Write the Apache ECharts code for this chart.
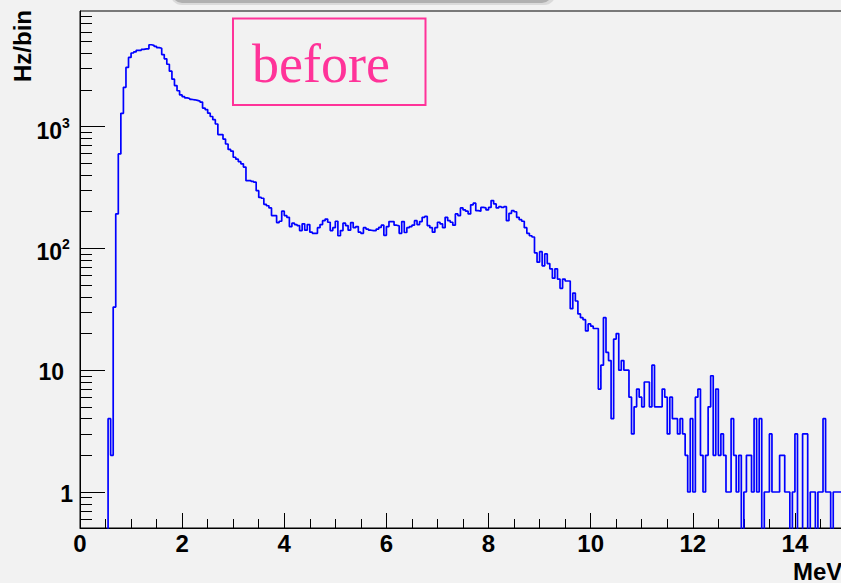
<!DOCTYPE html>
<html><head><meta charset="utf-8">
<script src="https://cdn.jsdelivr.net/npm/echarts@6/dist/echarts.min.js"></script>
<style>
html,body{margin:0;padding:0;width:841px;height:583px;overflow:hidden;background:#f2f2f2}
#c{width:846px;height:583px}
</style></head>
<body><div id="c"></div>
<script>
// ---- data ----
const binWidth = 0.05;          // MeV per bin
const xMin = 0, xMax = 15;      // MeV
const yMin = 0.5063, yMax = 8894;
// Hz/bin, one entry per bin starting at 0 MeV
const rates = [
  0,0,0,0,0,0,0,0,0,0,0,4,2,33,192,597,1285,2100,3060,3700,
  4020,4100,4230,4230,4300,4350,4350,4700,4650,4550,4450,4400,3900,3600,3250,2850,2450,2170,1970,1820,
  1760,1720,1700,1670,1660,1640,1620,1590,1420,1380,1290,1210,1140,1050,860,860,790,720,650,630,
  560,540,515,495,465,360,360,355,350,298,262,258,230,224,215,186,186,163,167,202,
  186,180,151,161,157,154,140,159,141,157,136,133,133,148,157,169,174,164,140,148,
  167,127,140,161,154,141,163,148,151,136,133,148,144,141,140,140,144,149,155,128,
  151,166,166,155,153,133,166,135,148,151,155,169,157,166,180,183,154,148,136,148,
  164,159,148,180,169,164,155,192,186,215,207,202,192,228,235,204,202,217,215,207,
  217,247,232,215,220,217,220,169,194,204,200,180,172,167,148,133,127,124,92,77,
  94,72,90,75,68,57,68,56,47,56,54,54,32,43,37,29,27,26,21,24,
  23,22,22,7,11,27,14,12,4,18,20,10,12,10,10,6,3,5,7,6,
  5,8,8,5,11,5,5,5,7,6,3,6,4,4,3,4,3,2,1,4,
  1,6,7,2,1,2,5,9,2,7,2,3,2,1,1,4,2,1,2,0,
  1,2,2,1,4,1,4,0,1,1,3,1,1,1,2,2,1,1,0,1,
  3,0,0,3,3,0,1,1,0,1,1,4,1,1,0,1,1,1,1,1
];
const xMajorTicks = [0,2,4,6,8,10,12,14];
const xMinorTicks = [0.5,1,1.5,2.5,3,3.5,4.5,5,5.5,6.5,7,7.5,8.5,9,9.5,10.5,11,11.5,12.5,13,13.5,14.5];
const yMajorTicks = [1,10,100,1000];
const yMinorTicks = [0.6,0.7,0.8,0.9,2,3,4,5,6,7,8,9,20,30,40,50,60,70,80,90,200,300,400,500,600,700,800,900,2000,3000,4000,5000,6000,7000,8000];
const yTickLabels = [{v:1,base:'1',exp:''},{v:10,base:'10',exp:''},{v:100,base:'10',exp:'2'},{v:1000,base:'10',exp:'3'}];
const xTitle = 'MeV', yTitle = 'Hz/bin', boxLabel = 'before';
const zeroFloor = 0.3; // empty bins are drawn below the frame (log scale)

// ---- chart ----
const SANS = "'Liberation Sans', Arial, Helvetica, sans-serif";
const chart = echarts.init(document.getElementById('c'), null, {renderer:'svg'});
const data = rates.map((v,i)=>[xMin + i*binWidth, v>0 ? v : zeroFloor]);
data.push([xMax, rates[rates.length-1] > 0 ? rates[rates.length-1] : zeroFloor]);

const axisBase = (extra)=>Object.assign({
  splitLine:{show:false},
  axisLine:{show:true, onZero:false, lineStyle:{color:'#000', width:1}},
}, extra);

chart.setOption({
  backgroundColor:'#f2f2f2',
  animation:false,
  grid:{left:80, top:11, right:0, bottom:55, show:true, borderColor:'#000', borderWidth:1, backgroundColor:'transparent'},
  xAxis:[
    axisBase({type:'value', min:xMin, max:xMax, position:'bottom',
      axisTick:{show:true, inside:true, length:15, customValues:xMajorTicks, lineStyle:{color:'#000', width:1}},
      axisLabel:{show:true, customValues:xMajorTicks, color:'#000', fontSize:24, fontWeight:'bold', fontFamily:SANS, margin:3}}),
    axisBase({type:'value', min:xMin, max:xMax, position:'bottom', axisLine:{show:false},
      axisTick:{show:true, inside:true, length:9, customValues:xMinorTicks, lineStyle:{color:'#000', width:1}},
      axisLabel:{show:false}})
  ],
  yAxis:[
    axisBase({type:'log', logBase:10, min:yMin, max:yMax, position:'left',
      axisTick:{show:true, inside:true, length:25, customValues:yMajorTicks, lineStyle:{color:'#000', width:1}},
      axisLabel:{show:false}}),
    axisBase({type:'log', logBase:10, min:yMin, max:yMax, position:'left', axisLine:{show:false},
      axisTick:{show:true, inside:true, length:12, customValues:yMinorTicks, lineStyle:{color:'#000', width:1}},
      axisLabel:{show:false}})
  ],
  series:[{
    type:'line', xAxisIndex:0, yAxisIndex:0, step:'end', symbol:'none', showSymbol:false,
    clip:true, lineStyle:{color:'#0000ff', width:1.7}, data:data
  }]
});

// labels and annotations placed through the axis scales
const g = [];
yTickLabels.forEach(t=>{
  const py = chart.convertToPixel({yAxisIndex:0}, t.v);
  if (t.exp) {
    g.push({type:'text', x:62, y:py+4, style:{text:t.base, align:'right', verticalAlign:'middle', fontSize:23, fontWeight:'bold', fontFamily:SANS, fill:'#000'}});
    g.push({type:'text', x:62, y:py-4, style:{text:t.exp, align:'left', verticalAlign:'middle', fontSize:14, fontWeight:'bold', fontFamily:SANS, fill:'#000'}});
  } else {
    g.push({type:'text', x:t.base.length>1?64:73, y:py+2, style:{text:t.base, align:'right', verticalAlign:'middle', fontSize:23, fontWeight:'bold', fontFamily:SANS, fill:'#000'}});
  }
});
g.push({type:'text', x:22, y:10, rotation:Math.PI/2, style:{text:yTitle, align:'right', verticalAlign:'middle', fontSize:24, fontWeight:'bold', fontFamily:SANS, fill:'#000'}});
g.push({type:'text', x:793, y:571, style:{text:xTitle, align:'left', verticalAlign:'middle', fontSize:24, fontWeight:'bold', fontFamily:SANS, fill:'#000'}});
g.push({type:'rect', shape:{x:233, y:18.5, width:192.5, height:86.5}, style:{fill:'none', stroke:'#ff3399', lineWidth:2}});
g.push({type:'text', x:252, y:37, style:{text:boxLabel, align:'left', verticalAlign:'top', fontSize:54, fontFamily:"'Liberation Serif', 'Times New Roman', serif", fill:'#ff3399'}});
g.push({type:'rect', z:-1, shape:{x:172, y:-24, width:380, height:27, r:10}, style:{fill:'#b0b0b0'}});
g.push({type:'rect', z:-2, shape:{x:170, y:-24, width:386, height:29, r:12}, style:{fill:'#dadada'}});
chart.setOption({graphic:g});
</script>
</body></html>
